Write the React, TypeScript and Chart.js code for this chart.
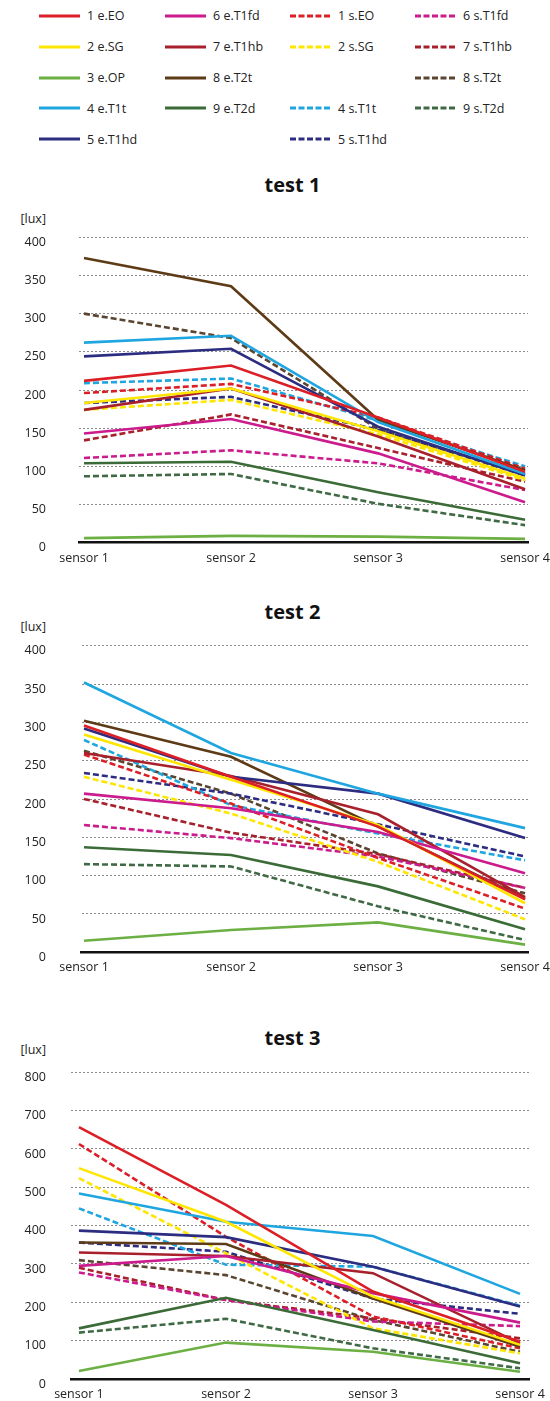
import React, { useEffect, useRef } from "react";
import { Chart, registerables } from "chart.js";

Chart.register(...registerables);
Chart.defaults.font.family = "'Open Sans', 'DejaVu Sans', sans-serif";

// ---------- data ----------
const sensors = ["sensor 1", "sensor 2", "sensor 3", "sensor 4"];
const testTitles = ["test 1", "test 2", "test 3"];
const yUnit = "[lux]";
const yMaxes = [400, 400, 800];
const ySteps = [50, 50, 100];

// each row = one test (test 1, test 2, test 3), values at sensor 1..4
const eEO = [[212, 232, 164, 93], [296, 229, 164, 69], [657, 454, 228, 97]];
const eSG = [[183, 202, 146, 84], [284, 225, 166, 64], [550, 410, 215, 89]];
const eOP = [[6, 9, 8, 5], [15, 29, 39, 10], [21, 95, 71, 19]];
const eT1t = [[262, 271, 158, 90], [352, 260, 207, 162], [484, 410, 373, 222]];
const eT1hd = [[244, 254, 152, 88], [292, 229, 207, 149], [387, 370, 293, 189]];
const eT1fd = [[143, 162, 117, 53], [207, 188, 157, 103], [295, 321, 224, 147]];
const eT1hb = [[174, 202, 139, 70], [260, 230, 180, 72], [330, 321, 276, 93]];
const eT2t = [[373, 336, 161, 95], [302, 255, 164, 70], [356, 352, 210, 84]];
const eT2d = [[104, 106, 66, 30], [137, 127, 86, 30], [132, 212, 128, 41]];
const sEO = [[196, 208, 164, 97], [258, 194, 123, 57], [613, 371, 163, 80]];
const sSG = [[174, 187, 142, 82], [229, 181, 118, 43], [524, 328, 132, 67]];
const sT1t = [[209, 215, 160, 100], [277, 192, 155, 120], [445, 298, 293, 191]];
const sT1hd = [[183, 191, 148, 90], [234, 207, 167, 125], [356, 332, 210, 170]];
const sT1fd = [[111, 121, 104, 69], [166, 149, 125, 84], [278, 206, 150, 138]];
const sT1hb = [[134, 168, 124, 80], [200, 156, 128, 84], [290, 206, 158, 106]];
const sT2t = [[300, 268, 149, 88], [263, 207, 129, 77], [310, 271, 154, 71]];
const sT2d = [[87, 90, 51, 23], [115, 112, 60, 16], [121, 157, 80, 28]];

// ---------- styles ----------
const C = {
  red: "#dc1f26",
  yellow: "#ffe600",
  lightGreen: "#6cb043",
  cyan: "#1fa6e0",
  navy: "#2c2c80",
  magenta: "#cb1b8c",
  darkRed: "#a8202c",
  brown: "#5e3b17",
  darkGreen: "#3b6b37",
};

type Series = { label: string; values: number[][]; color: string; dashed: boolean };

const SERIES: Series[] = [
  { label: "1 e.EO", values: eEO, color: C.red, dashed: false },
  { label: "2 e.SG", values: eSG, color: C.yellow, dashed: false },
  { label: "3 e.OP", values: eOP, color: C.lightGreen, dashed: false },
  { label: "4 e.T1t", values: eT1t, color: C.cyan, dashed: false },
  { label: "5 e.T1hd", values: eT1hd, color: C.navy, dashed: false },
  { label: "6 e.T1fd", values: eT1fd, color: C.magenta, dashed: false },
  { label: "7 e.T1hb", values: eT1hb, color: C.darkRed, dashed: false },
  { label: "8 e.T2t", values: eT2t, color: C.brown, dashed: false },
  { label: "9 e.T2d", values: eT2d, color: C.darkGreen, dashed: false },
  { label: "1 s.EO", values: sEO, color: C.red, dashed: true },
  { label: "2 s.SG", values: sSG, color: C.yellow, dashed: true },
  { label: "4 s.T1t", values: sT1t, color: C.cyan, dashed: true },
  { label: "5 s.T1hd", values: sT1hd, color: C.navy, dashed: true },
  { label: "6 s.T1fd", values: sT1fd, color: C.magenta, dashed: true },
  { label: "7 s.T1hb", values: sT1hb, color: C.darkRed, dashed: true },
  { label: "8 s.T2t", values: sT2t, color: "#5a4630", dashed: true },
  { label: "9 s.T2d", values: sT2d, color: "#3f6a45", dashed: true },
];

// legend grid: 4 columns x 5 rows (null = empty cell)
const LEGEND_COLUMNS: (string | null)[][] = [
  ["1 e.EO", "2 e.SG", "3 e.OP", "4 e.T1t", "5 e.T1hd"],
  ["6 e.T1fd", "7 e.T1hb", "8 e.T2t", "9 e.T2d", null],
  ["1 s.EO", "2 s.SG", null, "4 s.T1t", "5 s.T1hd"],
  ["6 s.T1fd", "7 s.T1hb", "8 s.T2t", "9 s.T2d", null],
];
const LEGEND_COL_X = [39, 165, 290, 415];
const LEGEND_ROW_Y0 = 15.7;
const LEGEND_ROW_STEP = 30.9;

// chart layout (page pixels)
const LAYOUTS = [
  { titleY: 184.5, luxY: 219, gridTop: 237.3, axisY: 542.7, left: 79, right: 528, xMin: -0.034, xMax: 3.02 },
  { titleY: 611.7, luxY: 626.7, gridTop: 645.7, axisY: 952.3, left: 81.7, right: 528, xMin: -0.0156, xMax: 3.02 },
  { titleY: 1038, luxY: 1050, gridTop: 1072.3, axisY: 1379, left: 71, right: 529, xMin: -0.054, xMax: 3.061 },
];

const FONT = "'Open Sans', 'DejaVu Sans', sans-serif";
const TEXT_COLOR = "#222";
const W = 550;

function LineChart({ idx }: { idx: number }) {
  const ref = useRef<HTMLCanvasElement | null>(null);
  const L = LAYOUTS[idx];
  const canvasTop = Math.floor(L.gridTop) - 12;
  const padTop = L.gridTop - canvasTop;
  const plotH = L.axisY - L.gridTop;
  const canvasH = Math.round(L.axisY + 34 - canvasTop);
  const xAxisH = canvasH - padTop - plotH;

  useEffect(() => {
    if (!ref.current) return;
    const chart = new Chart(ref.current, {
      type: "line",
      data: {
        datasets: SERIES.map((s) => ({
          label: s.label,
          data: s.values[idx].map((y, i) => ({ x: i, y })),
          borderColor: s.color,
          backgroundColor: s.color,
          borderWidth: 2.6,
          borderDash: s.dashed ? [6, 3] : [],
          pointRadius: 0,
          pointHoverRadius: 0,
          fill: false,
          tension: 0,
        })),
      },
      options: {
        animation: false,
        responsive: false,
        maintainAspectRatio: false,
        events: [],
        layout: { padding: { top: padTop, left: 0, right: W - L.right, bottom: 0 } },
        plugins: {
          legend: { display: false },
          tooltip: { enabled: false },
          title: { display: false },
        },
        scales: {
          x: {
            type: "linear",
            bounds: "data",
            min: L.xMin,
            max: L.xMax,
            grid: { display: false, drawTicks: false },
            border: { display: true, color: "#111", width: 2.5 },
            ticks: {
              padding: 8,
              maxRotation: 0,
              autoSkip: false,
              font: { size: 12.5, family: FONT },
              color: TEXT_COLOR,
              callback: (v: any) => sensors[Math.round(Number(v))] ?? "",
            },
            afterBuildTicks: (axis: any) => {
              axis.ticks = sensors.map((_, i) => ({ value: i }));
            },
            afterFit: (s: any) => {
              s.height = xAxisH;
              s.paddingLeft = 0;
              s.paddingRight = 0;
            },
          },
          y: {
            min: 0,
            max: yMaxes[idx],
            ticks: {
              stepSize: ySteps[idx],
              padding: L.left - 46,
              labelOffset: 5,
              font: { size: 12.5, family: FONT },
              color: TEXT_COLOR,
            },
            grid: { color: "#8c8c8c", lineWidth: 1, drawTicks: false },
            border: { display: false, dash: [2, 2] },
            afterFit: (s: any) => {
              s.width = L.left;
              s.paddingTop = 0;
              s.paddingBottom = 0;
            },
          },
        },
      } as any,
    });
    return () => chart.destroy();
  }, [idx]);

  return (
    <>
      <div
        style={{
          position: "absolute",
          left: 0,
          width: W,
          top: L.titleY - 14,
          height: 28,
          lineHeight: "28px",
          paddingLeft: 35,
          boxSizing: "border-box",
          textAlign: "center",
          fontFamily: FONT,
          fontWeight: 700,
          fontSize: 20,
          color: "#111",
        }}
      >
        {testTitles[idx]}
      </div>
      <div
        style={{
          position: "absolute",
          left: 0,
          width: 46,
          top: L.luxY - 9,
          height: 18,
          lineHeight: "18px",
          textAlign: "right",
          fontFamily: FONT,
          fontSize: 12.5,
          color: TEXT_COLOR,
        }}
      >
        {yUnit}
      </div>
      <canvas
        ref={ref}
        width={W}
        height={canvasH}
        style={{ position: "absolute", left: 0, top: canvasTop, width: W, height: canvasH }}
      />
    </>
  );
}

function Legend() {
  const items: React.ReactNode[] = [];
  LEGEND_COLUMNS.forEach((col, c) => {
    col.forEach((label, r) => {
      if (!label) return;
      const s = SERIES.find((x) => x.label === label)!;
      const y = LEGEND_ROW_Y0 + r * LEGEND_ROW_STEP;
      items.push(
        <div
          key={label}
          style={{
            position: "absolute",
            left: LEGEND_COL_X[c],
            top: y - 10,
            height: 20,
            display: "flex",
            alignItems: "center",
            fontFamily: FONT,
            fontSize: 12.5,
            color: TEXT_COLOR,
            whiteSpace: "nowrap",
          }}
        >
          <svg width={41} height={6} style={{ display: "block", marginRight: 7 }}>
            <line
              x1={0}
              y1={3}
              x2={41}
              y2={3}
              stroke={s.color}
              strokeWidth={3}
              strokeDasharray={s.dashed ? "6 2.5" : undefined}
            />
          </svg>
          <span>{label}</span>
        </div>
      );
    });
  });
  return <>{items}</>;
}

export default function App() {
  return (
    <div
      style={{
        position: "absolute",
        left: 0,
        top: 0,
        width: W,
        height: 1401,
        background: "#fff",
        overflow: "hidden",
      }}
    >
      <Legend />
      {testTitles.map((_, i) => (
        <LineChart key={i} idx={i} />
      ))}
    </div>
  );
}
